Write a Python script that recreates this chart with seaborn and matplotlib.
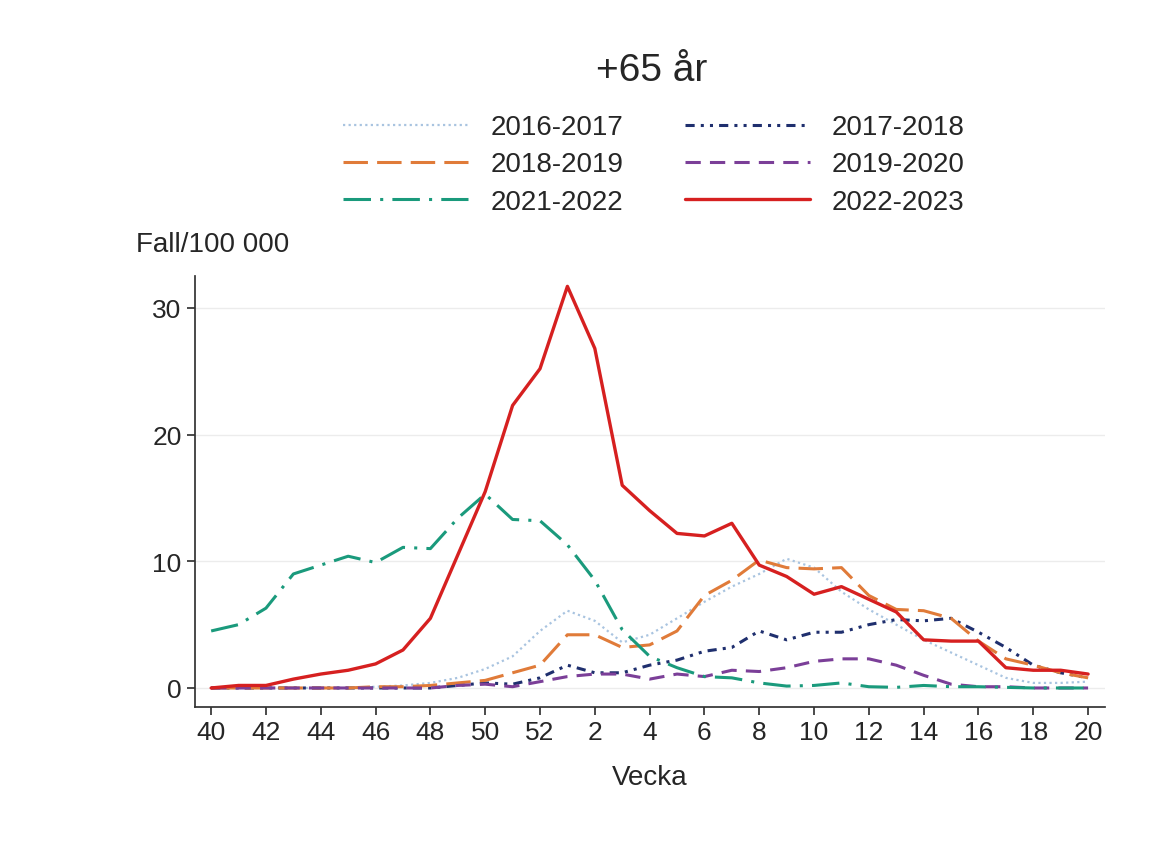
import matplotlib
matplotlib.use("Agg")
import matplotlib.pyplot as plt
import seaborn as sns
import pandas as pd

# veckor 40-52, sedan 1-20
weeks = list(range(40, 53)) + list(range(1, 21))

s_2016_2017 = [0, 0, 0, 0, 0, 0, 0.1, 0.2, 0.4, 0.8, 1.5, 2.5, 4.5, 6.1, 5.3, 3.6, 4.2, 5.5, 6.8, 8, 9, 10.2, 9.5, 7.6, 6.2, 5, 3.8, 2.8, 1.8, 0.8, 0.4, 0.4, 0.5]
s_2017_2018 = [0, 0, 0, 0, 0, 0, 0, 0, 0, 0.2, 0.4, 0.3, 0.8, 1.8, 1.2, 1.2, 1.8, 2.2, 2.9, 3.2, 4.5, 3.8, 4.4, 4.4, 5, 5.4, 5.3, 5.5, 4.4, 3.2, 1.8, 1.2, 0.8]
s_2018_2019 = [0, 0, 0, 0, 0, 0, 0.1, 0.1, 0.2, 0.4, 0.6, 1.2, 1.8, 4.2, 4.2, 3.2, 3.4, 4.5, 7.3, 8.5, 10.1, 9.5, 9.4, 9.5, 7.3, 6.2, 6.1, 5.5, 3.7, 2.3, 1.8, 1.2, 0.8]
s_2019_2020 = [0, 0, 0, 0, 0, 0, 0, 0, 0, 0.2, 0.3, 0.1, 0.5, 0.9, 1.1, 1.1, 0.7, 1.1, 0.9, 1.4, 1.3, 1.6, 2.1, 2.3, 2.3, 1.8, 1, 0.3, 0.1, 0.1, 0, 0, 0]
s_2021_2022 = [4.5, 5, 6.3, 9, 9.7, 10.4, 9.9, 11.1, 11, 13.4, 15.3, 13.3, 13.2, 11.3, 8.5, 4.6, 2.5, 1.6, 0.9, 0.8, 0.4, 0.15, 0.2, 0.4, 0.1, 0.05, 0.2, 0.1, 0.1, 0.05, 0, 0, 0]
s_2022_2023 = [0, 0.2, 0.2, 0.7, 1.1, 1.4, 1.9, 3, 5.5, 10.5, 15.5, 22.3, 25.2, 31.7, 26.8, 16, 14, 12.2, 12, 13, 9.7, 8.8, 7.4, 8, 7, 6, 3.8, 3.7, 3.7, 1.6, 1.4, 1.4, 1.1]

series = [
    ("2016-2017", s_2016_2017, "#a9c4e0", (1, 1.5), 1.6),
    ("2017-2018", s_2017_2018, "#1f2f6e", (3, 2, 1, 2, 1, 2), 2.2),
    ("2018-2019", s_2018_2019, "#e07b39", (8, 3), 2.2),
    ("2019-2020", s_2019_2020, "#7b3f98", (5, 3), 2.2),
    ("2021-2022", s_2021_2022, "#1a9a7c", (9, 3, 1, 3), 2.2),
    ("2022-2023", s_2022_2023, "#d62020", None, 2.4),
]

sns.set_theme(style="white")
plt.rcParams["font.family"] = ["Liberation Sans", "DejaVu Sans"]

fig = plt.figure(figsize=(11.59, 8.53), dpi=100)
ax = fig.add_axes([0.168, 0.17, 0.785, 0.505])

pos = list(range(len(weeks)))
for name, vals, color, dash, lw in series:
    df = pd.DataFrame({"pos": pos, "val": vals})
    sns.lineplot(data=df, x="pos", y="val", ax=ax, color=color, lw=lw,
                 label=name, dashes=False)
    if dash is not None:
        ax.lines[-1].set_dashes(dash)

ax.set_xlim(-0.6, len(weeks) - 0.4)
ax.set_ylim(-1.5, 32.5)
ax.set_xticks(pos[::2])
ax.set_xticklabels([str(w) for w in weeks[::2]], fontsize=19)
ax.set_yticks([0, 10, 20, 30])
ax.tick_params(axis="y", labelsize=19, left=True, length=6, color="#333333")
ax.tick_params(axis="x", bottom=True, length=6, color="#333333")
ax.yaxis.grid(True, color="#ececec", lw=1)
for s in ["top", "right"]:
    ax.spines[s].set_visible(False)
for s in ["left", "bottom"]:
    ax.spines[s].set_color("#333333")
ax.set_xlabel("Vecka", fontsize=20, labelpad=14)
ax.set_ylabel("")
fig.text(0.117, 0.705, "Fall/100 000", fontsize=20)
fig.text(0.562, 0.905, "+65 år", fontsize=28, ha="center")

# radvis ordning i två kolumner
handles, labels = ax.get_legend_handles_labels()
order = [0, 2, 4, 1, 3, 5]
ax.legend([handles[i] for i in order], [labels[i] for i in order],
          ncol=2, loc="lower center", bbox_to_anchor=(0.505, 1.085), frameon=False,
          fontsize=20, handlelength=4.5, handletextpad=0.8, columnspacing=2.2,
          labelspacing=0.4)

fig.savefig("out.png", dpi=100)
